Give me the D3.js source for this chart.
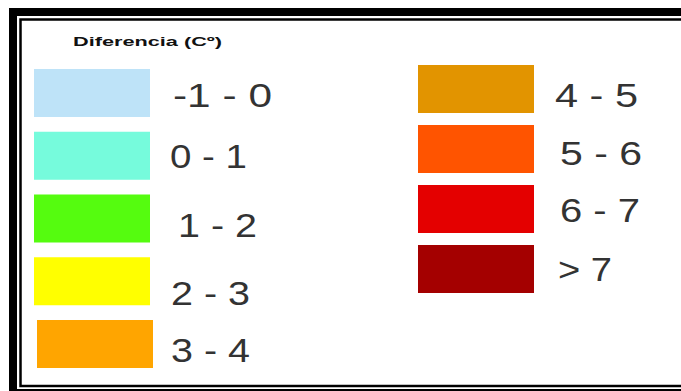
<!DOCTYPE html>
<html>
<head>
<meta charset="utf-8">
<script src="https://cdn.jsdelivr.net/npm/d3@7"></script>
<style>
  html, body { margin: 0; padding: 0; background: #fff; }
  svg { display: block; }
</style>
</head>
<body>
<svg id="legend" width="681" height="391"></svg>
<script>
// Temperature-difference classes shown in the legend
const title = "Diferencia (Cº)";
const classLabels = ["-1 - 0", "0 - 1", "1 - 2", "2 - 3", "3 - 4", "4 - 5", "5 - 6", "6 - 7", "> 7"];
const classColors = ["#bee3f8", "#76fbdc", "#55fc0f", "#ffff00", "#ffa500", "#e29400", "#ff5400", "#e40000", "#a40000"];
const columnOf   = [0, 0, 0, 0, 0, 1, 1, 1, 1];

// Layout: per-column slot scales plus small per-entry nudges
const slotLeft  = d3.scaleLinear().domain([0, 4]).range([69, 320]);
const slotRight = d3.scaleLinear().domain([0, 3]).range([65, 245]);
const swatchX   = [34, 418];
const swatchW   = 116, swatchH = 48;
const swatchDx  = [0, 0, 0, 0, 3, 0, 0, 0, 0];
const labelX    = [173, 170, 178, 171, 171, 555, 560, 560, 558];
const labelDy   = [38, 36, 42, 48, 42, 42, 40, 37, 36];
const labelW    = [99, 77, 79, 79, 79, 83, 82, 80, 54];

const entries = classLabels.map((label, i) => {
  const col = columnOf[i];
  const idx = col === 0 ? i : i - 5;
  return { label, color: classColors[i], col, i, y: col === 0 ? slotLeft(idx) : slotRight(idx) };
});

const svg = d3.select("#legend");

// Double frame: heavy outer rule and thin inner rule
const frame = svg.append("g").attr("fill", "#000");
frame.append("rect").attr("x", 10).attr("y", 8).attr("width", 700).attr("height", 8);
frame.append("rect").attr("x", 9).attr("y", 8).attr("width", 8).attr("height", 400);
frame.append("rect").attr("x", 9).attr("y", 389).attr("width", 700).attr("height", 4);
svg.append("rect")
  .attr("x", 20.5).attr("y", 19.5).attr("width", 700).attr("height", 366.5)
  .attr("fill", "none").attr("stroke", "#000").attr("stroke-width", 2.5);

// Title
svg.append("text")
  .attr("x", 73).attr("y", 46)
  .attr("font-family", "Liberation Sans, Arial, sans-serif")
  .attr("font-size", 13).attr("font-weight", "bold")
  .attr("fill", "#111")
  .attr("textLength", 149).attr("lengthAdjust", "spacingAndGlyphs")
  .text(title);

// Swatches
svg.append("g").selectAll("rect").data(entries).join("rect")
  .attr("x", d => swatchX[d.col] + swatchDx[d.i])
  .attr("y", d => d.y)
  .attr("width", swatchW)
  .attr("height", swatchH)
  .attr("fill", d => d.color);

// Class labels
svg.append("g").selectAll("text").data(entries).join("text")
  .attr("x", d => labelX[d.i])
  .attr("y", d => d.y + labelDy[d.i])
  .attr("font-family", "Liberation Sans, Arial, sans-serif")
  .attr("font-size", 34)
  .attr("fill", "#333")
  .attr("textLength", d => labelW[d.i])
  .attr("lengthAdjust", "spacingAndGlyphs")
  .text(d => d.label);
</script>
</body>
</html>
